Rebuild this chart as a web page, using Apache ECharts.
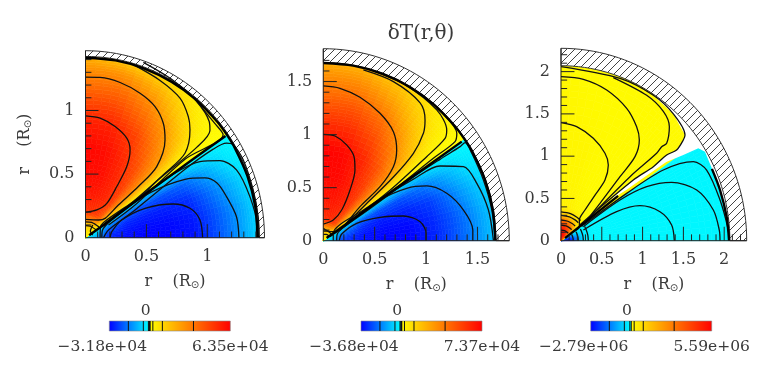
<!DOCTYPE html>
<html>
<head>
<meta charset="utf-8">
<style>
  html, body { margin: 0; padding: 0; background: #fff; }
  #main { width: 768px; height: 371px; }
</style>
<script src="https://cdn.jsdelivr.net/npm/echarts@6/dist/echarts.min.js"></script>
</head>
<body>
<div id="main"></div>
<script>
// angles of the field table, degrees up from the x axis
var thetas = [0, 10, 20, 28, 33, 34.5, 35.5, 37, 40, 45, 52, 62, 76, 90];

// panel 1, dT in units of 1e3
var radii1 = [0, 0.1, 0.2, 0.35, 0.5, 0.7, 0.9, 1.05, 1.2, 1.32, 1.42];
var field1 = [
  [-2, -2, -2, -2, -2, -1, 1, 1, 1, 2, 2, 3, 3, 3],
  [-12, -10, -6, -3, -2, -1, 1, 2, 3, 5, 8, 10, 12, 12],
  [-28, -26, -20, -12, -4, -1, 1, 3, 8, 22, 40, 48, 50, 50],
  [-31, -30, -27, -20, -8, -2, 1, 4, 15, 30, 48, 54, 57, 58],
  [-32, -31, -28, -22, -9, -2, 1, 5, 16, 33, 47, 54, 60, 60],
  [-32, -31, -28, -22, -10, -2, 1, 5, 14, 30, 42, 52, 60, 62],
  [-30, -29, -26, -19, -8, -2, 1, 4, 10, 24, 33, 46, 55, 56],
  [-24, -23, -19, -13, -5, -1, 1, 2, 6, 15, 26, 36, 46, 47],
  [-17, -16, -12, -7, -3, -1, 1, 2, 4, 8, 15, 27, 36, 36],
  [-10, -10, -7, -3, -2, -1, 1, 1, 2, 4, 9, 18, 27, 28],
  [-5, -5, -3, -2, -1, -1, 1, 1, 2, 3, 5, 9, 14, 20]
];

// panel 2, dT in units of 1e3
var radii2 = [0, 0.1, 0.2, 0.4, 0.6, 0.85, 1.1, 1.25, 1.4, 1.55, 1.68];
var field2 = [
  [-2, -2, -2, -2, -1, -1, 2, 2, 2, 3, 3, 3, 3, 3],
  [-10, -9, -6, -3, -2, -1, 1, 2, 4, 8, 12, 16, 18, 18],
  [-30, -27, -20, -10, -4, -1, 1, 4, 12, 30, 50, 60, 62, 60],
  [-35, -34, -30, -22, -8, -2, 1, 5, 18, 38, 58, 65, 68, 68],
  [-37, -36, -33, -25, -10, -2, 1, 6, 20, 40, 56, 65, 72, 72],
  [-37, -36, -32, -25, -10, -2, 1, 6, 16, 36, 50, 62, 72, 74],
  [-32, -31, -28, -19, -8, -2, 1, 4, 10, 24, 36, 50, 60, 62],
  [-27, -26, -22, -14, -5, -1, 1, 3, 7, 16, 28, 42, 52, 52],
  [-21, -20, -15, -9, -3, -1, 1, 2, 4, 10, 19, 32, 42, 42],
  [-14, -13, -9, -4, -2, -1, 1, 1, 3, 6, 12, 22, 32, 33],
  [-8, -8, -5, -3, -1, -1, 1, 1, 2, 4, 7, 14, 22, 24]
];

// panel 3, dT in units of 1e5
var radii3 = [0, 0.06, 0.1, 0.15, 0.2, 0.25, 0.3, 0.4, 0.7, 1.2, 1.7, 2.07];
var field3 = [
  [-20, -20, -16, -10, -6, -2, 8, 10, 12, 18, 24, 28, 30, 30],
  [-28, -26, -20, -12, -6, -2, 10, 14, 20, 30, 40, 48, 52, 54],
  [-28, -26, -20, -10, -5, -2, 6, 10, 16, 26, 38, 46, 52, 56],
  [-22, -20, -14, -8, -3, -1, 3, 6, 14, 24, 34, 42, 48, 50],
  [-13, -12, -8, -4, -2, -1, 2, 4, 10, 18, 26, 34, 40, 42],
  [-6, -6, -4, -2, -1, -1, 1, 2, 5, 10, 16, 22, 28, 30],
  [-2, -2, -2, -1, -1, -1, 1, 1, 2, 4, 7, 10, 13, 14],
  [-1, -1, -1, -1, -1, -1, 1, 1, 1, 1, 2, 2, 3, 3],
  [-1, -1, -1, -1, -1, -1, 1, 1, 1, 1, 1, 1, 2, 2],
  [-1, -1, -1, -1, -1, -1, 1, 1, 1, 1, 1, 1, 2, 2],
  [-1, -1, -1, -1, -1, -1, 1, 1, 1, 1, 1, 1, 1, 2],
  [-1, -1, -1, -1, -1, -1, 1, 1, 1, 1, 1, 1, 1, 1]
];

// contour lines, [x, y] in solar radii
var contours1 = [
  [[0, 0.958], [0.12, 0.94], [0.243, 0.874], [0.339, 0.782], [0.366, 0.69], [0.339, 0.559], [0.257, 0.402], [0.175, 0.27], [0.093, 0.218], [0, 0.2]],
  [[0, 1.262], [0.12, 1.26], [0.284, 1.22], [0.448, 1.136], [0.571, 1.031], [0.639, 0.9], [0.653, 0.769], [0.585, 0.559], [0.434, 0.402], [0.27, 0.257], [0.161, 0.152], [0.107, 0.139], [0, 0.144]],
  [[0.393, 1.36], [0.612, 1.236], [0.776, 1.097], [0.844, 0.953], [0.858, 0.848], [0.817, 0.664], [0.653, 0.507], [0.407, 0.297], [0.161, 0.113]],
  [[0.475, 1.378], [0.721, 1.236], [0.913, 1.071], [1.016, 0.913], [1.022, 0.843], [0.913, 0.71], [0.612, 0.467], [0.407, 0.285], [0.148, 0.09]],
  [[0.9, 1.09], [1.06, 0.9], [1.13, 0.81], [0.817, 0.617], [0.407, 0.257], [0.189, 0.1]],
  [[0.202, 0], [0.216, 0.047], [0.298, 0.139], [0.489, 0.231], [0.721, 0.265], [0.858, 0.231], [0.94, 0.139], [0.962, 0]],
  [[0.134, 0], [0.14, 0.06], [0.2, 0.13], [0.27, 0.192], [0.544, 0.36], [0.817, 0.459], [0.98, 0.47], [1.08, 0.43], [1.158, 0.323], [1.24, 0.165], [1.26, 0]],
  [[0.12, 0], [0.123, 0.08], [0.148, 0.12], [0.393, 0.283], [0.721, 0.5], [0.94, 0.598], [1.104, 0.606], [1.24, 0.533], [1.35, 0.323], [1.404, 0.113], [1.404, 0]],
  [[0.148, 0], [0.189, 0.06], [0.407, 0.218], [0.817, 0.538], [1.049, 0.696], [1.158, 0.743], [1.213, 0.73], [1.295, 0.612], [1.377, 0.375], [1.418, 0.165], [1.426, 0]],
  [[0, 0.125], [0.05, 0.12], [0.11, 0.085]],
  [[0, 0.095], [0.04, 0.09], [0.09, 0.06]],
  [[0.06, 0.1], [0.04, 0.05], [0.06, 0.02]]
];
var heavy1 = [
  [[0, 1.415], [0.246, 1.394], [0.484, 1.33], [0.708, 1.225], [0.91, 1.084], [1.084, 0.91], [1.159, 0.812], [1.225, 0.708], [1.33, 0.484], [1.394, 0.246], [1.415, 0]],
  [[0.03, 0.02], [0.134, 0.09], [0.817, 0.572], [1.15, 0.8]]
];

var contours2 = [
  [[0, 1.003], [0.114, 0.987], [0.227, 0.903], [0.299, 0.792], [0.308, 0.667], [0.26, 0.478], [0.179, 0.289], [0.097, 0.195], [0, 0.157]],
  [[0, 1.459], [0.162, 1.437], [0.357, 1.352], [0.552, 1.201], [0.682, 1.028], [0.714, 0.855], [0.682, 0.698], [0.552, 0.509], [0.357, 0.321], [0.195, 0.132], [0.13, 0.085], [0.065, 0.085], [0, 0.116]],
  [[0.39, 1.61], [0.682, 1.5], [0.942, 1.3], [0.99, 1.138], [0.974, 1.013], [0.877, 0.824], [0.682, 0.6], [0.422, 0.35], [0.162, 0.101]],
  [[0.487, 1.6], [0.812, 1.46], [1.104, 1.233], [1.201, 1.044], [1.185, 0.965], [1.006, 0.792], [0.649, 0.475], [0.227, 0.16]],
  [[1.104, 1.25], [1.299, 1.013], [1.282, 0.934], [1.071, 0.777], [0.682, 0.478], [0.195, 0.13]],
  [[0.156, 0], [0.179, 0.063], [0.325, 0.164], [0.552, 0.22], [0.779, 0.233], [0.942, 0.179], [1, 0.069], [1, 0]],
  [[0.13, 0], [0.136, 0.063], [0.227, 0.148], [0.552, 0.384], [0.812, 0.494], [1.006, 0.516], [1.201, 0.447], [1.364, 0.289], [1.455, 0.101], [1.455, 0]],
  [[0.097, 0], [0.097, 0.069], [0.39, 0.289], [0.877, 0.58], [1.136, 0.704], [1.364, 0.698], [1.494, 0.541], [1.607, 0.289], [1.656, 0]],
  [[0.065, 0.038], [0.422, 0.28], [0.877, 0.6], [1.136, 0.767], [1.331, 0.887], [1.38, 0.925], [1.445, 0.824], [1.558, 0.572], [1.64, 0.289], [1.672, 0]],
  [[0, 0.09], [0.04, 0.09], [0.08, 0.06]],
  [[0, 0.06], [0.03, 0.06], [0.06, 0.04]]
];
var heavy2 = [
  [[0, 1.675], [0.291, 1.65], [0.573, 1.574], [0.838, 1.451], [1.077, 1.283], [1.283, 1.077], [1.372, 0.961], [1.451, 0.838], [1.574, 0.573], [1.65, 0.291], [1.675, 0]],
  [[0.032, 0.025], [0.682, 0.475], [1.347, 0.934]]
];

var contours3 = [
  [[0, 1.396], [0.192, 1.349], [0.396, 1.211], [0.539, 1.034], [0.58, 0.895], [0.539, 0.718], [0.417, 0.54], [0.294, 0.363], [0.225, 0.245], [0.225, 0.166], [0.16, 0.11]],
  [[0, 1.941], [0.274, 1.909], [0.56, 1.783], [0.805, 1.566], [0.927, 1.349], [0.96, 1.191], [0.907, 0.994], [0.723, 0.757], [0.478, 0.442], [0.253, 0.166]],
  [[0.641, 1.93], [1.05, 1.72], [1.254, 1.53], [1.328, 1.349], [1.295, 1.152], [1.234, 1.112], [1.172, 1.034], [0.846, 0.757], [0.274, 0.2]],
  [[0, 2.06], [0.723, 1.92], [1.132, 1.72], [1.377, 1.5], [1.52, 1.25], [1.499, 1.191], [1.417, 1.073], [1.295, 1.014], [1.132, 0.876], [0.886, 0.718], [0.233, 0.19]],
  [[0.274, 0.126], [0.682, 0.343], [0.968, 0.414], [1.213, 0.343], [1.356, 0.185], [1.389, 0]],
  [[0.274, 0.166], [0.723, 0.481], [1.05, 0.639], [1.356, 0.69], [1.663, 0.6], [1.867, 0.363], [1.94, 0.126], [1.949, 0]],
  [[0.274, 0.185], [0.805, 0.56], [1.254, 0.836], [1.622, 0.935], [1.785, 0.836], [1.949, 0.481], [2.051, 0.126], [2.063, 0]],
  [[0, 0.34], [0.116, 0.32], [0.195, 0.278], [0.24, 0.24]],
  [[0, 0.3], [0.103, 0.282], [0.172, 0.246], [0.212, 0.212]],
  [[0, 0.245], [0.084, 0.23], [0.141, 0.2], [0.173, 0.173]],
  [[0, 0.185], [0.063, 0.174], [0.106, 0.152], [0.131, 0.131]],
  [[0, 0.126], [0.043, 0.118], [0.072, 0.103], [0.089, 0.089]],
  [[0.335, 0], [0.328, 0.07], [0.306, 0.136], [0.29, 0.168]],
  [[0.274, 0], [0.268, 0.057], [0.25, 0.112], [0.237, 0.137]],
  [[0.212, 0], [0.207, 0.044], [0.194, 0.086], [0.184, 0.106]],
  [[0.15, 0], [0.147, 0.031], [0.137, 0.061], [0.13, 0.075]]
];
var heavy3 = [
  [[0.05, 0.03], [0.7, 0.53]],
  [[1.85, 0.85], [1.949, 0.6], [2.03, 0.284], [2.06, 0]]
];
// the empty wedge between the two lobes of panel 3
var gap3 = [[1.132, 1.72], [1.377, 1.5], [1.52, 1.25], [1.499, 1.191], [1.417, 1.073], [1.295, 1.014], [1.132, 0.876], [0.886, 0.718], [0.6, 0.48], [0.8, 0.6], [1.029, 0.757], [1.29, 0.93], [1.499, 1.014], [1.683, 1.093], [1.765, 1.053], [1.908, 0.718], [2.03, 0.284], [2.071, 0.03], [2.12, 0.4], [2.0, 1.05], [1.8, 1.3], [1.4, 1.72]];

var ticks1 = { major: [0.5, 1], minor: [0.1, 0.2, 0.3, 0.4, 0.6, 0.7, 0.8, 0.9, 1.1, 1.2, 1.3, 1.4] };
var ticks2 = { major: [0.5, 1, 1.5], minor: [0.1, 0.2, 0.3, 0.4, 0.6, 0.7, 0.8, 0.9, 1.1, 1.2, 1.3, 1.4, 1.6, 1.7] };
var ticks3 = { major: [0.5, 1, 1.5, 2], minor: [0.1, 0.2, 0.3, 0.4, 0.6, 0.7, 0.8, 0.9, 1.1, 1.2, 1.3, 1.4, 1.6, 1.7, 1.8, 1.9, 2.1, 2.2] };
var axisLabels1 = [0, 0.5, 1];
var axisLabels2 = [0, 0.5, 1, 1.5];
var axisLabels3 = [0, 0.5, 1, 1.5, 2];

var barRange1 = [-3.18e4, 6.35e4];
var barRange2 = [-3.68e4, 7.37e4];
var barRange3 = [-2.79e6, 5.59e6];
var barLevels1 = [-16800, -5000, -1000, 0, 2500, 10000, 34500];
var barLevels2 = [-19500, -5800, -1200, 0, 2900, 11600, 40000];
var barLevels3 = [-1500000, -460000, -80000, 20000, 220000, 850000, 2990000];
var barLabels1 = ['\u22123.18e+04', '6.35e+04'];
var barLabels2 = ['\u22123.68e+04', '7.37e+04'];
var barLabels3 = ['\u22122.79e+06', '5.59e+06'];

var FONT = '"DejaVu Serif"';
var INK = '#3a3a3a';

var panels = [
  { left: 85.5, top: 50.7, width: 179, height: 187, rMax: 1.47, rIn: 1.425, radii: radii1, field: field1, lo: -32, hi: 63, ticks: ticks1, labels: axisLabels1, contours: contours1, heavy: heavy1, barLeft: 109.3, barRange: barRange1, levels: barLevels1, barLabels: barLabels1 },
  { left: 323.3, top: 48.7, width: 186, height: 192, rMax: 1.81, rIn: 1.68, radii: radii2, field: field2, lo: -37, hi: 74, ticks: ticks2, labels: axisLabels2, contours: contours2, heavy: heavy2, barLeft: 361, barRange: barRange2, levels: barLevels2, barLabels: barLabels2 },
  { left: 561, top: 48.3, width: 185.7, height: 192.4, rMax: 2.276, rIn: 2.07, radii: radii3, field: field3, lo: -28, hi: 56, ticks: ticks3, labels: axisLabels3, contours: contours3, heavy: heavy3, gap: gap3, barLeft: 590.7, barRange: barRange3, levels: barLevels3, barLabels: barLabels3 }
];

// yellow->red above zero, cyan->blue below
function valueColor(v, lo, hi) {
  if (v >= 0) {
    return 'rgb(255,' + Math.round(255 * (1 - Math.min(v / hi, 1))) + ',0)';
  }
  return 'rgb(0,' + Math.round(255 * (1 - Math.min(v / lo, 1))) + ',255)';
}

function polar(r, th) {
  var a = th * Math.PI / 180;
  return [r * Math.cos(a), r * Math.sin(a)];
}

var hatchCanvas = document.createElement('canvas');
hatchCanvas.width = 8;
hatchCanvas.height = 8;
(function () {
  var c = hatchCanvas.getContext('2d');
  c.fillStyle = '#fff';
  c.fillRect(0, 0, 8, 8);
  c.strokeStyle = '#444';
  c.lineWidth = 1;
  c.beginPath();
  c.moveTo(-2, 10); c.lineTo(10, -2);
  c.moveTo(-2, 2); c.lineTo(2, -2);
  c.moveTo(6, 10); c.lineTo(10, 6);
  c.stroke();
})();

var grid = [], xAxis = [], yAxis = [], series = [];

function addPanel(p, n) {
  grid.push({ left: p.left, top: p.top, width: p.width, height: p.height, containLabel: false });
  var base = {
    type: 'value', gridIndex: n, min: 0, max: p.rMax, splitLine: { show: false },
    axisLine: { show: false },
    axisTick: { show: false },
    axisLabel: { customValues: p.labels, fontFamily: FONT, fontSize: 16, color: INK, margin: 11 },
    nameLocation: 'middle',
    nameTextStyle: {
      rich: {
        t: { fontFamily: FONT, fontSize: 16, color: INK },
        s: { fontFamily: '"DejaVu Sans"', fontSize: 10, color: INK, padding: [7, 0, 0, 0] }
      }
    }
  };
  var xi = xAxis.length, yi = yAxis.length;
  xAxis.push(Object.assign({}, base, { position: 'bottom', name: '{t|r    (R}{s|\u2299}{t|)}', nameGap: 36 }));
  yAxis.push(Object.assign({}, base, n === 0 ? { position: 'left', name: '{t|r    (R}{s|\u2299}{t|)}', nameGap: 52 } : { position: 'left' }));

  // colour field: one item per table cell, shaded across the cell
  var cells = [];
  for (var i = 0; i < p.radii.length - 1; i++) {
    for (var j = 0; j < thetas.length - 1; j++) cells.push([i, j]);
  }
  series.push({
    type: 'custom', xAxisIndex: xi, yAxisIndex: yi, silent: true, z: 2,
    data: cells,
    renderItem: function (params, api) {
      var i = api.value(0), j = api.value(1), kids = [];
      var r0 = p.radii[i], r1 = p.radii[i + 1], t0 = thetas[j], t1 = thetas[j + 1];
      var nr = 5, nt = 4;
      for (var a = 0; a < nr; a++) {
        for (var b = 0; b < nt; b++) {
          var u = (a + 0.5) / nr, w = (b + 0.5) / nt;
          var v = (1 - u) * ((1 - w) * p.field[i][j] + w * p.field[i][j + 1]) +
                  u * ((1 - w) * p.field[i + 1][j] + w * p.field[i + 1][j + 1]);
          var ra = r0 + (r1 - r0) * a / nr, rb = r0 + (r1 - r0) * (a + 1) / nr;
          var ta = t0 + (t1 - t0) * b / nt, tb = t0 + (t1 - t0) * (b + 1) / nt;
          var col = valueColor(v, p.lo, p.hi);
          kids.push({
            type: 'polygon',
            shape: { points: [polar(ra, ta), polar(rb, ta), polar(rb, tb), polar(ra, tb)].map(api.coord) },
            style: { fill: col, stroke: col, lineWidth: 0.6 }
          });
        }
      }
      return { type: 'group', children: kids };
    }
  });

  if (p.gap) {
    series.push({
      type: 'custom', xAxisIndex: xi, yAxisIndex: yi, silent: true, z: 3,
      data: [[0, 0]],
      renderItem: function (params, api) {
        return { type: 'polygon', shape: { points: p.gap.map(api.coord) }, style: { fill: '#fff' } };
      }
    });
  }

  // hatched shell outside the computed domain
  series.push({
    type: 'custom', xAxisIndex: xi, yAxisIndex: yi, silent: true, z: 4,
    data: [[0, 0]],
    renderItem: function (params, api) {
      var pts = [], k;
      for (k = 0; k <= 90; k += 2) pts.push(api.coord(polar(p.rMax, k)));
      for (k = 90; k >= 0; k -= 2) pts.push(api.coord(polar(p.rIn, k)));
      return {
        type: 'polygon', shape: { points: pts },
        style: { fill: { image: hatchCanvas, repeat: 'repeat' }, stroke: '#333', lineWidth: 1 }
      };
    }
  });

  p.contours.forEach(function (c) {
    series.push({
      type: 'line', xAxisIndex: xi, yAxisIndex: yi, data: c, smooth: 0.3, symbol: 'none', silent: true, z: 5,
      lineStyle: { color: '#111', width: 1.3 }
    });
  });
  p.heavy.forEach(function (c) {
    series.push({
      type: 'line', xAxisIndex: xi, yAxisIndex: yi, data: c, smooth: 0.3, symbol: 'none', silent: true, z: 6,
      lineStyle: { color: '#000', width: 2.4 }
    });
  });

  // spines and inward ticks sit on top of the field, so they are a line series of their own
  var lenMajor = 0.0725 * p.rMax, lenMinor = 0.033 * p.rMax;
  var marks = [[0, 0], [p.rMax, 0], [NaN, NaN], [0, 0], [0, p.rMax], [NaN, NaN]];
  [[p.ticks.major, lenMajor], [p.ticks.minor, lenMinor]].forEach(function (set) {
    set[0].forEach(function (t) {
      marks.push([t, 0], [t, set[1]], [NaN, NaN], [0, t], [set[1], t], [NaN, NaN]);
    });
  });
  series.push({
    type: 'line', xAxisIndex: xi, yAxisIndex: yi, data: marks, symbol: 'none', silent: true, z: 7, clip: false,
    connectNulls: false,
    lineStyle: { color: '#222', width: 1 }
  });
}

function addBar(p, n) {
  var g = grid.length;
  grid.push({ left: p.barLeft, top: 321, width: 121, height: 10 });
  var lo = p.barRange[0], hi = p.barRange[1], mid = -lo / (hi - lo);
  xAxis.push({ type: 'value', gridIndex: g, min: lo, max: hi, show: false });
  yAxis.push({ type: 'value', gridIndex: g, min: 0, max: 1, show: false });
  var xi = xAxis.length - 1, yi = yAxis.length - 1;
  series.push({
    type: 'custom', xAxisIndex: xi, yAxisIndex: yi, silent: true, z: 2,
    data: [[lo, 0]],
    renderItem: function (params, api) {
      var a = api.coord([lo, 1]), b = api.coord([hi, 0]), kids = [];
      kids.push({
        type: 'rect',
        shape: { x: a[0], y: a[1], width: b[0] - a[0], height: b[1] - a[1] },
        style: {
          stroke: '#888', lineWidth: 0.6,
          fill: {
            type: 'linear', x: 0, y: 0, x2: 1, y2: 0,
            colorStops: [
              { offset: 0, color: 'rgb(0,0,255)' },
              { offset: mid - 0.002, color: 'rgb(0,255,255)' },
              { offset: mid + 0.002, color: 'rgb(255,255,0)' },
              { offset: 1, color: 'rgb(255,0,0)' }
            ]
          }
        }
      });
      p.levels.forEach(function (v) {
        var q = api.coord([v, 0]);
        kids.push({ type: 'line', shape: { x1: q[0], y1: a[1], x2: q[0], y2: b[1] }, style: { stroke: '#111', lineWidth: v === 0 ? 2 : 1 } });
      });
      var z = api.coord([0, 1]);
      var font = '15.5px ' + FONT;
      kids.push({ type: 'text', style: { text: '0', x: z[0] - 4, y: a[1] - 10, align: 'center', verticalAlign: 'middle', font: font, fill: INK } });
      kids.push({ type: 'text', style: { text: p.barLabels[0], x: a[0] - 7, y: b[1] + 16, align: 'center', verticalAlign: 'middle', font: font, fill: INK } });
      kids.push({ type: 'text', style: { text: p.barLabels[1], x: b[0], y: b[1] + 16, align: 'center', verticalAlign: 'middle', font: font, fill: INK } });
      return { type: 'group', children: kids };
    }
  });
}

panels.forEach(addPanel);
panels.forEach(addBar);

var myChart = echarts.init(document.getElementById('main'));
myChart.setOption({
  animation: false,
  backgroundColor: '#fff',
  title: {
    text: '\u03b4T(r,\u03b8)', left: 416, top: 19, textAlign: 'center',
    textStyle: { fontFamily: FONT, fontSize: 20, fontWeight: 'normal', color: INK }
  },
  tooltip: { show: false },
  grid: grid,
  xAxis: xAxis,
  yAxis: yAxis,
  series: series
});
</script>
</body>
</html>
